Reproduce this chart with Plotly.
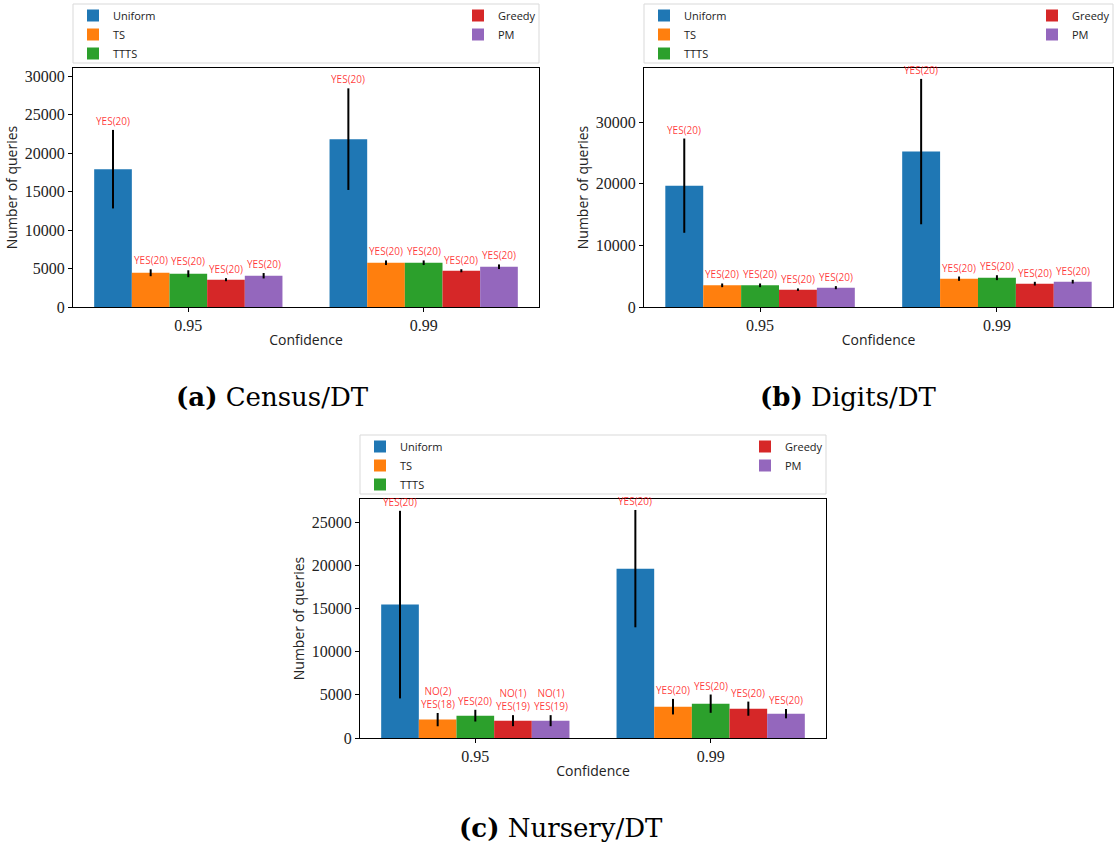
import plotly.graph_objects as go

W, H = 1115, 846

methods = ["Uniform", "TS", "TTTS", "Greedy", "PM"]
colors = ["#1f77b4", "#ff7f0e", "#2ca02c", "#d62728", "#9467bd"]
confidences = ["0.95", "0.99"]

# Census/DT  (per method: [0.95, 0.99])
census_mean = [[17900, 21800], [4450, 5750], [4320, 5750], [3550, 4710], [4060, 5230]]
census_err = [[5100, 6600], [450, 300], [450, 300], [200, 200], [350, 300]]
census_lab = [["YES(20)", "YES(20)"]] * 5

# Digits/DT
digits_mean = [[19700, 25230], [3520, 4600], [3520, 4760], [2820, 3790], [3140, 4110]]
digits_err = [[7650, 11800], [300, 350], [300, 400], [200, 300], [250, 300]]
digits_lab = [["YES(20)", "YES(20)"]] * 5

# Nursery/DT
nursery_mean = [[15460, 19630], [2130, 3630], [2590, 3980], [2010, 3400], [2010, 2820]]
nursery_err = [[10870, 6800], [770, 900], [680, 1060], [640, 820], [640, 540]]
nursery_lab = [["YES(20)", "YES(20)"],
               ["NO(2)<br>YES(18)", "YES(20)"],
               ["YES(20)", "YES(20)"],
               ["NO(1)<br>YES(19)", "YES(20)"],
               ["NO(1)<br>YES(19)", "YES(20)"]]

captions = ["<b>(a)</b> Census/DT", "<b>(b)</b> Digits/DT", "<b>(c)</b> Nursery/DT"]

def px(x):
    return x / W

def py(y):
    return 1 - y / H

panels = [
    dict(l=73, r=539, t=68, b=307, ymax=31040, dtick=5000, lt=4, lb=63, ccx=272, ccy=397,
         mean=census_mean, err=census_err, lab=census_lab),
    dict(l=644, r=1113, t=68, b=307, ymax=38800, dtick=10000, lt=4, lb=63, ccx=848, ccy=397,
         mean=digits_mean, err=digits_err, lab=digits_lab),
    dict(l=360, r=826, t=499, b=738, ymax=27700, dtick=5000, lt=435, lb=494, ccx=561, ccy=828,
         mean=nursery_mean, err=nursery_err, lab=nursery_lab),
]

fig = go.Figure()
annotations = []
shapes = []
bar_w = 0.16
tick_font = dict(family="Liberation Serif", size=16, color="#222")
title_font = dict(family="Open Sans", size=14, color="#222")
leg_font = dict(family="Open Sans", size=11, color="#222")

for pi, p in enumerate(panels):
    ax = "" if pi == 0 else str(pi + 1)
    xa, ya = "x" + ax, "y" + ax
    lg1 = "legend" if pi == 0 else "legend%d" % (2 * pi + 1)
    lg2 = "legend%d" % (2 * pi + 2)
    for mi, m in enumerate(methods):
        fig.add_trace(go.Bar(
            x=[0, 1], y=p["mean"][mi], name=m,
            marker=dict(color=colors[mi], line=dict(width=0)),
            error_y=dict(type="data", array=p["err"][mi], color="black", thickness=2, width=0),
            xaxis=xa, yaxis=ya,
            legend=lg1 if mi < 3 else lg2,
        ))
        for ci in range(2):
            annotations.append(dict(
                x=ci + (mi - 2) * bar_w, y=p["mean"][mi][ci] + p["err"][mi][ci],
                xref=xa, yref=ya, text=p["lab"][mi][ci], showarrow=False,
                yanchor="bottom", yshift=0,
                font=dict(family="Open Sans", size=10, color="rgba(255,0,0,0.78)"),
            ))
    axkey = "xaxis" + ax
    aykey = "yaxis" + ax
    fig.update_layout(**{
        axkey: dict(domain=[px(p["l"]), px(p["r"])], anchor=ya, range=[-0.49, 1.49],
                    tickvals=[0, 1], ticktext=confidences, ticks="outside", ticklen=4,
                    tickcolor="black", showline=True, linecolor="black", linewidth=1,
                    mirror=True, showgrid=False, zeroline=False, tickfont=tick_font,
                    automargin=False,
                    title=dict(text="Confidence", font=title_font, standoff=1)),
        aykey: dict(domain=[py(p["b"]), py(p["t"])], anchor=xa, range=[0, p["ymax"]],
                    dtick=p["dtick"], tickformat="d", ticks="outside", ticklen=4,
                    tickcolor="black", showline=True, linecolor="black", linewidth=1,
                    mirror=True, showgrid=False, zeroline=False, tickfont=tick_font,
                    automargin=False,
                    title=dict(text="Number of queries", font=title_font, standoff=3)),
        lg1: dict(x=px(p["l"]), y=py(p["lt"] - 3), xanchor="left", yanchor="top",
                  bgcolor="rgba(0,0,0,0)", borderwidth=0, font=leg_font),
        lg2: dict(x=px(p["r"] - 81), y=py(p["lt"] - 3), xanchor="left", yanchor="top",
                  bgcolor="rgba(0,0,0,0)", borderwidth=0, font=leg_font),
    })
    shapes.append(dict(type="rect", xref="paper", yref="paper",
                       x0=px(p["l"]), x1=px(p["r"]), y0=py(p["lb"]), y1=py(p["lt"]),
                       line=dict(color="#d9d9d9", width=1), fillcolor="rgba(255,255,255,0.8)",
                       layer="below"))
    annotations.append(dict(x=px(p["ccx"]), y=py(p["ccy"]), xref="paper", yref="paper",
                            text=captions[pi], showarrow=False, xanchor="center", yanchor="middle",
                            font=dict(family="DejaVu Serif", size=26, color="black")))

fig.update_layout(
    width=W, height=H, autosize=False,
    margin=dict(l=0, r=0, t=0, b=0, autoexpand=False),
    paper_bgcolor="white", plot_bgcolor="white",
    barmode="group", bargap=0.2, bargroupgap=0,
    annotations=annotations, shapes=shapes,
)

fig.write_html("out.html")
